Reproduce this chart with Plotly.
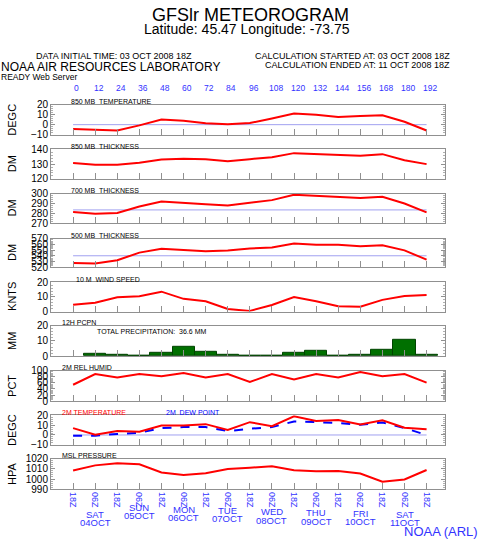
import plotly.graph_objects as go

W, H = 480, 545

hours = list(range(0, 193, 12))
hour_labels = [str(h) for h in hours]
bottom_labels = ["18Z" if i % 2 == 0 else "06Z" for i in range(len(hours))]

t850 = [-4.3, -5.3, -5.9, -0.7, 5.2, 3.9, 1.3, 0.3, 1.6, 6.2, 11.1, 10.0, 7.8, 8.8, 9.4, 2.9, -5.9]
th850 = [130.7, 129.5, 129.5, 130.9, 133.2, 133.6, 133.4, 132.0, 133.4, 134.7, 137.5, 136.8, 136.1, 135.7, 136.8, 132.7, 130.0]
th700 = [281.3, 279.6, 280.3, 286.9, 292.1, 291.0, 289.3, 287.9, 290.4, 293.5, 299.0, 298.0, 296.3, 295.6, 297.0, 290.0, 281.0]
th500 = [527.3, 526.2, 532.0, 545.6, 552.4, 549.5, 547.8, 549.5, 552.9, 554.6, 561.5, 559.3, 559.3, 557.0, 558.7, 549.5, 533.1]
wind = [4.7, 6.0, 9.8, 10.5, 13.6, 8.7, 7.1, 1.8, 0.5, 4.5, 10.0, 7.1, 3.6, 3.3, 8.0, 10.7, 11.3]
pcpn_hours = list(range(12, 193, 12))
pcpn = [1.6, 0.7, 0.4, 2.3, 6.0, 2.6, 0.6, 0.0, 0.0, 2.2, 3.5, 0.0, 1.2, 4.0, 10.6, 1.0]
rh = [54, 89, 78, 89, 82, 93, 78, 89, 63, 89, 71, 89, 78, 96, 82, 89, 61]
t2m = [7.0, 0.3, 4.0, 3.3, 9.7, 9.7, 11.0, 5.0, 13.0, 9.0, 19.0, 14.3, 15.3, 10.7, 15.0, 7.3, 5.7]
td2m = [-0.7, -0.7, 1.0, 2.3, 7.0, 8.0, 8.0, 4.0, 6.3, 8.0, 13.7, 13.0, 12.3, 10.3, 12.7, 7.0, 0.0]
mslp = [1008.5, 1013.5, 1015.5, 1014.5, 1006.5, 1004.0, 1005.8, 1009.8, 1011.2, 1012.6, 1008.6, 1007.6, 1007.9, 1005.5, 997.4, 999.5, 1008.9]

ref_t850 = 0
ref_th700 = 283.5
ref_th500 = 540
ref_t2m = 0

days = ["SAT", "SUN", "MON", "TUE", "WED", "THU", "FRI", "SAT"]
dates = ["04OCT", "05OCT", "06OCT", "07OCT", "08OCT", "09OCT", "10OCT", "11OCT"]
day_hours = [12, 36, 60, 84, 108, 132, 156, 180]
day_y = [519.5, 513, 515, 516, 517.3, 518.3, 518.5, 520]

total_pcpn = 36.6

FONT = "Liberation Sans"
BLUE = "#3333ff"
REF = "#a0a0f0"
GRAY = "#909090"

def py(px):
    return 1 - px / H

panels = [
    # (top, bottom, range, dtick, ytitle, label, label_x)
    (101, 131.5, [-10, 20], 10, "DEGC", "850 MB  TEMPERATURE", 70),
    (146.7, 176.7, [120, 140], 10, "DM", "850 MB  THICKNESS", 70),
    (192, 222, [270, 300], 10, "DM", "700 MB  THICKNESS", 70),
    (238, 267, [520, 570], 10, "DM", "500 MB  THICKNESS", 70),
    (282.5, 312.5, [0, 20], 10, "KNTS", "10 M  WIND SPEED", 75),
    (327, 358, [0, 20], 10, "MM", "12H PCPN", 61),
    (373, 404, [0, 100], 20, "PCT", "2M REL HUMID", 61),
    (418.5, 448.7, [-10, 20], 10, "DEGC", "", 61),
    (463, 494, [990, 1020], 10, "HPA", "MSL PRESSURE", 61),
]

fig = go.Figure()
red = dict(color="#ff0000", width=2)

def ax(i):
    return ("x" if i == 0 else f"x{i+1}"), ("y" if i == 0 else f"y{i+1}")

series = [t850, th850, th700, th500, wind, None, rh, t2m, mslp]
refs = {0: ref_t850, 2: ref_th700, 3: ref_th500, 7: ref_t2m}

for i, s in enumerate(series):
    xa, ya = ax(i)
    if i in refs:
        fig.add_trace(go.Scatter(x=[hours[0], hours[-1]], y=[refs[i], refs[i]], mode="lines",
                                 line=dict(color=REF, width=1), xaxis=xa, yaxis=ya, showlegend=False))
    if i == 5:
        fig.add_trace(go.Bar(x=pcpn_hours, y=pcpn, width=12, marker=dict(color="#007000", line=dict(color="#004400", width=1)),
                             xaxis=xa, yaxis=ya, showlegend=False))
    elif i == 7:
        fig.add_trace(go.Scatter(x=hours, y=td2m, mode="lines", line=dict(color="#0000ff", width=2, dash="dash"),
                                 xaxis=xa, yaxis=ya, showlegend=False))
        fig.add_trace(go.Scatter(x=hours, y=s, mode="lines", line=red, xaxis=xa, yaxis=ya, showlegend=False))
    else:
        fig.add_trace(go.Scatter(x=hours, y=s, mode="lines", line=red, xaxis=xa, yaxis=ya, showlegend=False))

layout = dict(width=W, height=H, margin=dict(l=0, r=0, t=0, b=0), autosize=False,
              paper_bgcolor="white", plot_bgcolor="white", bargap=0,
              font=dict(family=FONT, color="black"))

annotations = []

def ann(text, x, y, size, color="black", xanchor="center", xref="paper", angle=0, yanchor="middle"):
    annotations.append(dict(text=text, x=x, y=y, xref=xref, yref="paper", showarrow=False,
                            xanchor=xanchor, yanchor=yanchor, textangle=angle, borderpad=0,
                            font=dict(size=size, color=color, family=FONT)))

for i, (top, bot, rng, dt, ytitle, label, lx) in enumerate(panels):
    xkey = "xaxis" if i == 0 else f"xaxis{i+1}"
    ykey = "yaxis" if i == 0 else f"yaxis{i+1}"
    xa, ya = ax(i)
    last = i == len(panels) - 1
    layout[xkey] = dict(domain=[51 / W, 445 / W], range=[-12, 202], anchor=ya,
                        tickmode="array", tickvals=hours,
                        ticktext=bottom_labels if last else [""] * len(hours),
                        showticklabels=last, tickangle=90,
                        tickfont=dict(size=9, color=BLUE, family=FONT),
                        ticks="inside", ticklen=6, tickcolor=GRAY, tickwidth=1,
                        showline=True, linecolor=GRAY, linewidth=1, mirror=True,
                        showgrid=False, zeroline=False, fixedrange=True)
    layout[ykey] = dict(domain=[py(bot), py(top)], range=rng, anchor=xa,
                        tickmode="linear", tick0=rng[0], dtick=dt,
                        ticks="inside", ticklen=4, tickcolor=GRAY, mirror="allticks",
                        minor=dict(ticks="inside", ticklen=2, tickcolor="#b0b0b0", dtick=dt / 5),
                        tickfont=dict(size=10, color="black", family=FONT),
                        showline=True, linecolor=GRAY, linewidth=1,
                        showgrid=False, zeroline=False, fixedrange=True)
    ann(ytitle, 12 / W, py((top + bot) / 2), 11, angle=-90)
    if label:
        ann(label, lx / W, py(top - 3), 7, xanchor="left")

ann("2M TEMPERATURE", 61 / W, py(415.5), 7, color="#ff0000", xanchor="left")
ann("2M  DEW POINT", 165 / W, py(415.5), 7, color="#0000ff", xanchor="left")
ann(f"TOTAL PRECIPITATION:  {total_pcpn} MM", 96 / W, py(332.7), 7, xanchor="left")

ann("GFSlr METEOROGRAM", 250 / W, py(9), 18)
ann("Latitude: 45.47 Longitude: -73.75", 247 / W, py(24), 14)
ann("DATA INITIAL TIME: 03 OCT 2008 18Z", 35 / W, py(51), 9, xanchor="left")
ann("CALCULATION STARTED AT: 03 OCT 2008 18Z", 451 / W, py(51), 9, xanchor="right")
ann("CALCULATION ENDED AT: 11 OCT 2008 18Z", 451 / W, py(60), 9, xanchor="right")
ann("NOAA AIR RESOURCES LABORATORY", 0, py(62.5), 12, xanchor="left")
ann("READY Web Server", 0, py(72.5), 8.5, xanchor="left")
ann("NOAA (ARL)", 479 / W, py(537.5), 13, color=BLUE, xanchor="right")

for h, lab in zip(hours, hour_labels):
    ann(lab, h + 2, py(84), 8.5, color=BLUE, xref="x")

for h, d, dt, yy in zip(day_hours, days, dates, day_y):
    ann(d, h, py(yy), 9.5, color=BLUE, xref="x9")
    ann(dt, h, py(yy + 8.3), 9.5, color=BLUE, xref="x9")

layout["annotations"] = annotations
fig.update_layout(**layout)
fig.write_html("out.html", config={"displayModeBar": False},
               post_script="document.body.style.margin='0';document.body.style.padding='0';")
